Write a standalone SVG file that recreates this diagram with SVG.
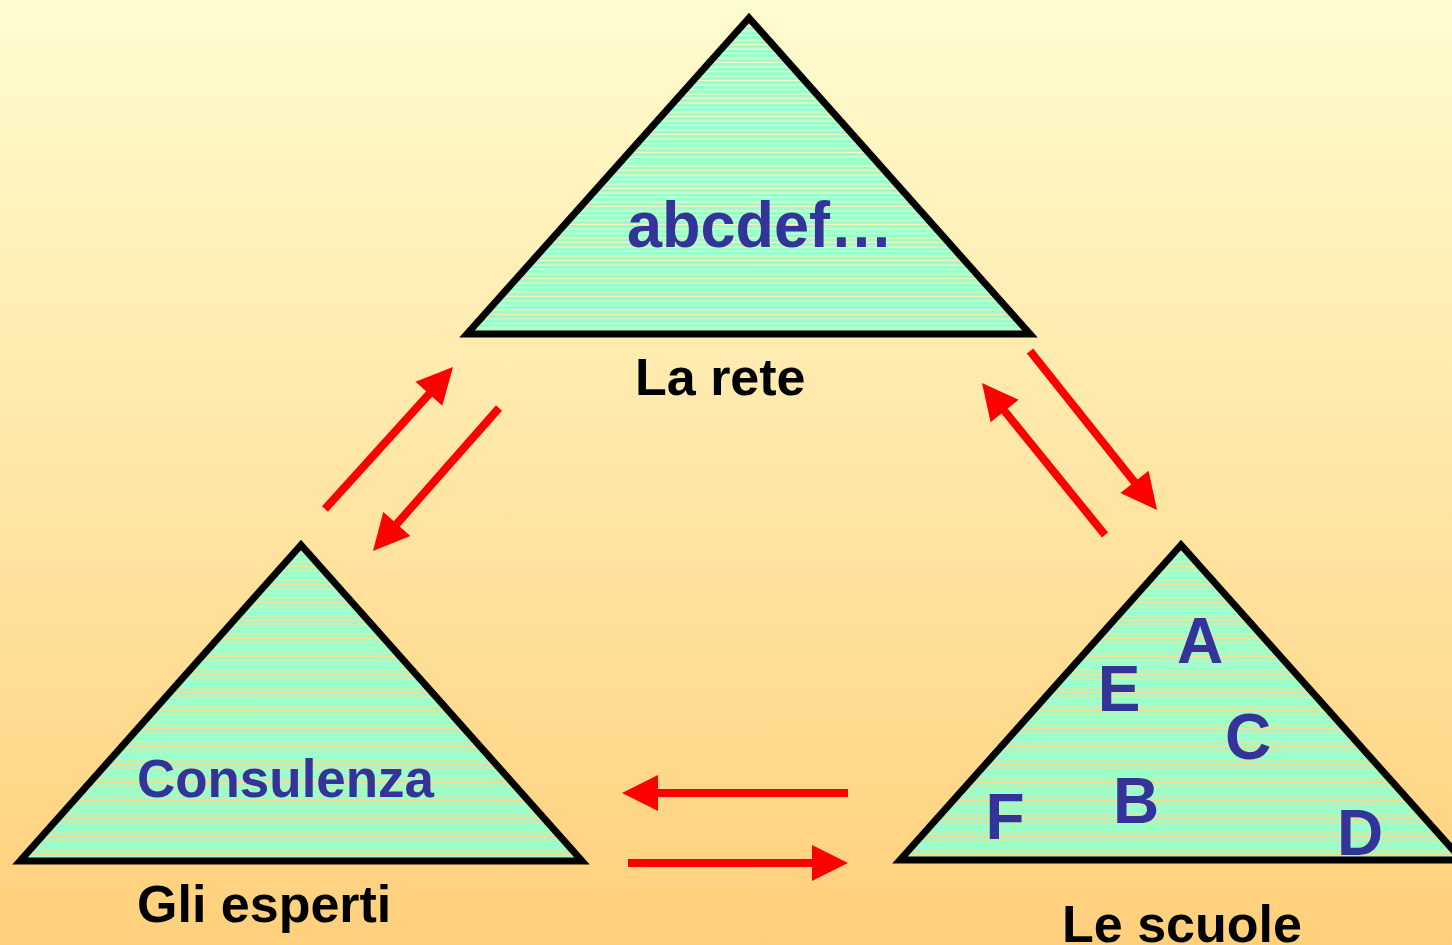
<svg xmlns="http://www.w3.org/2000/svg" width="1452" height="945" viewBox="0 0 1452 945">
<style>
.tri{stroke:#000;stroke-width:7;stroke-linejoin:miter;stroke-miterlimit:10;fill:url(#stripes)}
.blue{fill:#333399;font-family:"Liberation Sans",Arial,Helvetica,sans-serif;font-weight:bold}
.lbl{fill:#000;font-family:"Liberation Sans",Arial,Helvetica,sans-serif;font-weight:bold;font-size:52px}
.shaft{stroke:#ff0000;stroke-width:8;fill:none}
.head{fill:#ff0000;stroke:none}
</style>
<defs>
<linearGradient id="bg" x1="0" y1="0" x2="0" y2="1">
<stop offset="0" stop-color="#FFFCCF"/>
<stop offset="1" stop-color="#FFD07C"/>
</linearGradient>
<pattern id="stripes" patternUnits="userSpaceOnUse" width="20" height="4.5">
<rect x="0" y="0" width="20" height="3.5" fill="#99FFCC"/>
</pattern>
</defs>
<rect x="0" y="0" width="1452" height="945" fill="url(#bg)"/>

<g id="node-rete">
<polygon class="tri" points="749,18 467,334 1030,334"/>
<text class="blue" x="627" y="247" font-size="64" textLength="266" lengthAdjust="spacingAndGlyphs">abcdef…</text>
<text class="lbl" x="635" y="395">La rete</text>
</g>

<g id="node-esperti">
<polygon class="tri" points="301,545 20,861 582,861"/>
<text class="blue" x="137" y="797" font-size="54" textLength="297" lengthAdjust="spacingAndGlyphs">Consulenza</text>
<text class="lbl" x="137" y="922">Gli esperti</text>
</g>

<g id="node-scuole">
<polygon class="tri" points="1181,545 900,860 1462,860"/>
<text class="blue" x="1200" y="663" font-size="64" text-anchor="middle">A</text>
<text class="blue" x="1119" y="711" font-size="64" text-anchor="middle">E</text>
<text class="blue" x="1248" y="759" font-size="64" text-anchor="middle">C</text>
<text class="blue" x="1136" y="823" font-size="64" text-anchor="middle">B</text>
<text class="blue" x="1005" y="839" font-size="64" text-anchor="middle">F</text>
<text class="blue" x="1360" y="855" font-size="64" text-anchor="middle">D</text>
<text class="lbl" x="1062" y="942">Le scuole</text>
</g>

<g id="connectors">
<line class="shaft" x1="325" y1="509" x2="431" y2="392"/>
<polygon class="head" points="453,367 442.3,405.8 415.5,381.7"/>
<line class="shaft" x1="499" y1="408" x2="395" y2="526"/>
<polygon class="head" points="373,551 410.3,535.9 383.3,512.1"/>
<line class="shaft" x1="1030" y1="351" x2="1136" y2="484"/>
<polygon class="head" points="1157,510 1120.4,493.1 1148.6,470.7"/>
<line class="shaft" x1="1105" y1="535" x2="1003" y2="409"/>
<polygon class="head" points="982,383 1018.6,399.7 990.6,422.3"/>
<line class="shaft" x1="848" y1="793" x2="655" y2="793"/>
<polygon class="head" points="622,793 658,775 658,811"/>
<line class="shaft" x1="628" y1="863" x2="815" y2="863"/>
<polygon class="head" points="848,863 812,845 812,881"/>
</g>
</svg>
